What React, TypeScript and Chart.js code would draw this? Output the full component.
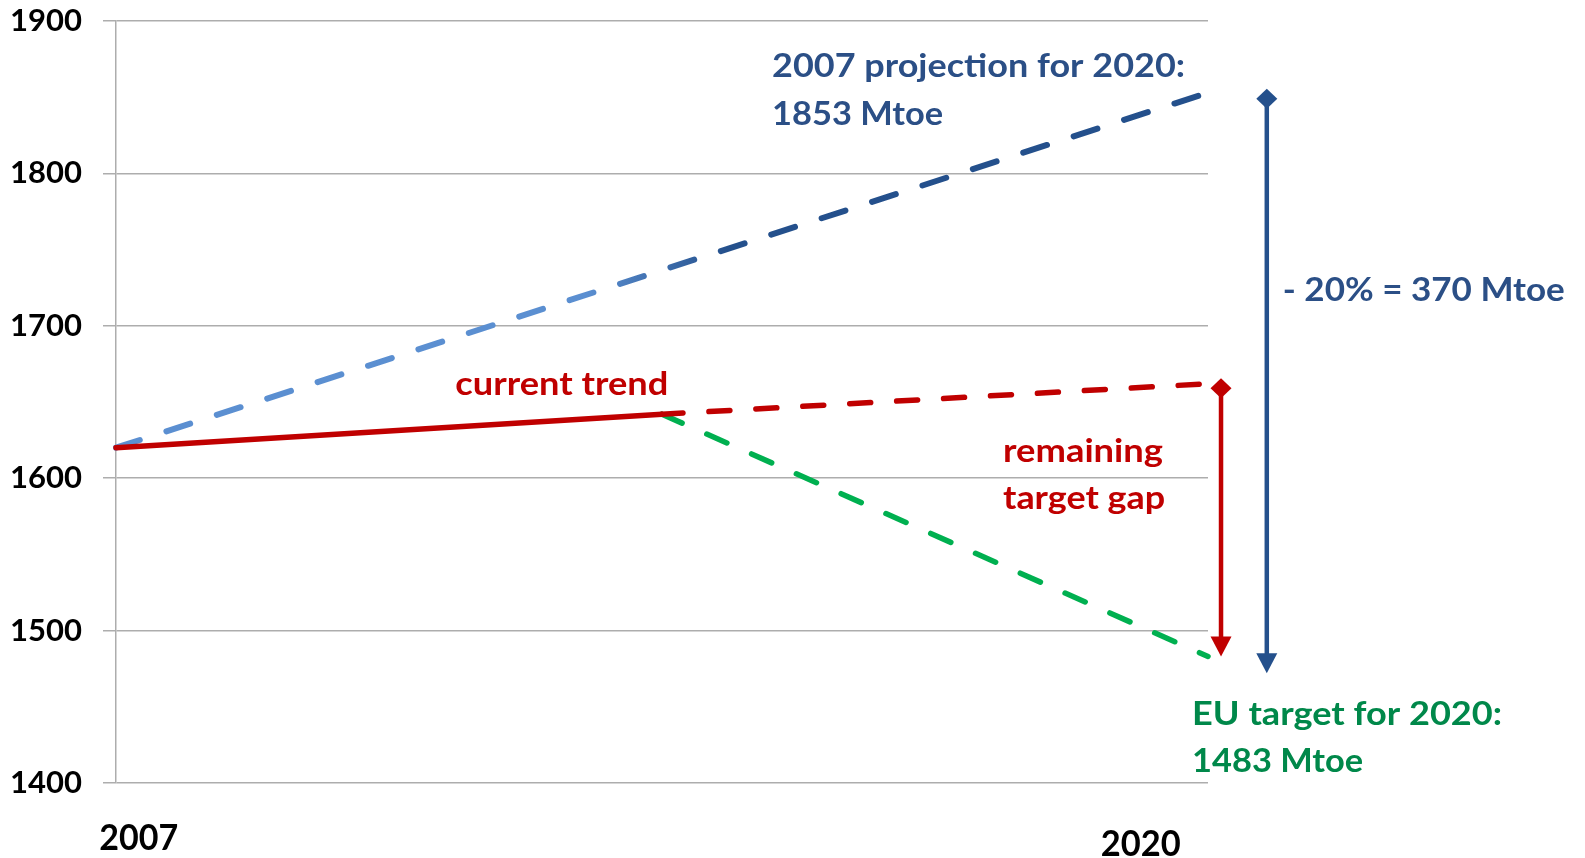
import React, { useEffect, useRef } from 'react';
import { Chart, registerables } from 'chart.js';

Chart.register(...registerables);

// ---- Data ----
const yMin = 1400;
const yMax = 1900;
const yStep = 100;
const xTickLabels = ['2007', '2020'];
const xTickYears = [2007.27, 2019.2];

const projectionYears = [2007, 2020];
const projectionValues = [1620, 1853];
const trendYears = [2007, 2013.5];
const trendValues = [1620, 1642];
const trendProjYears = [2013.5, 2020];
const trendProjValues = [1642, 1662];
const targetYears = [2013.5, 2020];
const targetValues = [1642, 1483];

const gapArrowYear = 2020.155;
const gapArrowValues = [1659, 1483];
const reductionArrowYear = 2020.7;
const reductionArrowValues = [1849, 1472];

const annotationTexts = [
  '2007 projection for 2020:',
  '1853 Mtoe',
  '- 20% = 370 Mtoe',
  'current trend',
  'remaining',
  'target gap',
  'EU target for 2020:',
  '1483 Mtoe',
];

// ---- Styles ----
const GRID = '#ADADAD';
const RED = '#C00000';
const GREEN_LINE = '#00B050';
const GREEN_TEXT = '#00884A';
const BLUE_LIGHT = '#5B8FD1';
const BLUE_DARK = '#24508C';
const BLUE_TEXT = '#2B4F86';
const FONT = 'Lato';

const pts = (xs: number[], ys: number[]) => xs.map((x, i) => ({ x, y: ys[i] }));

function fitText(
  ctx: CanvasRenderingContext2D,
  text: string,
  x: number,
  y: number,
  size: number,
  width: number,
  color: string
) {
  ctx.save();
  ctx.font = `bold ${size}px ${FONT}`;
  ctx.fillStyle = color;
  ctx.textAlign = 'left';
  ctx.textBaseline = 'alphabetic';
  const w = ctx.measureText(text).width;
  const sx = w > 0 ? width / w : 1;
  ctx.translate(x, y);
  ctx.scale(sx, 1);
  ctx.fillText(text, 0, 0);
  ctx.restore();
}

function drawArrow(
  ctx: CanvasRenderingContext2D,
  px: number,
  yTop: number,
  yTip: number,
  color: string
) {
  ctx.save();
  ctx.strokeStyle = color;
  ctx.fillStyle = color;
  ctx.lineWidth = 4.5;
  ctx.beginPath();
  ctx.moveTo(px, yTop);
  ctx.lineTo(px, yTip - 16);
  ctx.stroke();
  // diamond
  ctx.beginPath();
  ctx.moveTo(px, yTop - 10);
  ctx.lineTo(px + 10.5, yTop);
  ctx.lineTo(px, yTop + 10);
  ctx.lineTo(px - 10.5, yTop);
  ctx.closePath();
  ctx.fill();
  // arrow head
  ctx.beginPath();
  ctx.moveTo(px - 10.5, yTip - 20);
  ctx.lineTo(px + 10.5, yTip - 20);
  ctx.lineTo(px, yTip);
  ctx.closePath();
  ctx.fill();
  ctx.restore();
}

const annotationPlugin = {
  id: 'annotations',
  afterDatasetsDraw(chart: any) {
    const { ctx } = chart;
    const x = chart.scales.x;
    const y = chart.scales.y;
    const X = (v: number) => x.getPixelForValue(v);
    const Y = (v: number) => y.getPixelForValue(v);

    drawArrow(ctx, X(gapArrowYear), Y(gapArrowValues[0]), Y(gapArrowValues[1]), RED);
    drawArrow(ctx, X(reductionArrowYear), Y(reductionArrowValues[0]), Y(reductionArrowValues[1]), BLUE_DARK);

    // text: [year, value(baseline), size, width, color]
    const placements: [number, number, number, number, string][] = [
      [2014.81, 1863.3, 33, 413, BLUE_TEXT],
      [2014.81, 1831.8, 33, 171, BLUE_TEXT],
      [2020.89, 1716.5, 33, 282, BLUE_TEXT],
      [2011.04, 1654.6, 33, 213, RED],
      [2017.56, 1610.6, 33, 160, RED],
      [2017.56, 1580.0, 33, 162, RED],
      [2019.81, 1438.1, 33, 310, GREEN_TEXT],
      [2019.81, 1407.2, 33, 171, GREEN_TEXT],
    ];
    annotationTexts.forEach((t, i) => {
      const [yr, val, size, w, col] = placements[i];
      fitText(ctx, t, X(yr), Y(val), size, w, col);
    });

    // x-axis labels
    const xSizes = [37, 37];
    const xWidths = [79, 80];
    const xBase = [850, 856];
    xTickLabels.forEach((t, i) => {
      const cx = X(xTickYears[i]);
      fitText(ctx, t, cx - xWidths[i] / 2, xBase[i], xSizes[i], xWidths[i], '#000000');
    });
  },
};

export default function App() {
  const canvasRef = useRef<HTMLCanvasElement | null>(null);

  useEffect(() => {
    const canvas = canvasRef.current;
    if (!canvas) return;

    const blueGradient = (context: any) => {
      const chart = context.chart;
      const area = chart.chartArea;
      if (!area) return BLUE_LIGHT;
      const g = chart.ctx.createLinearGradient(area.left, 0, area.right, 0);
      g.addColorStop(0, BLUE_LIGHT);
      g.addColorStop(0.43, BLUE_LIGHT);
      g.addColorStop(0.56, BLUE_DARK);
      g.addColorStop(1, BLUE_DARK);
      return g;
    };

    const chart = new Chart(canvas, {
      type: 'line',
      data: {
        datasets: [
          {
            label: 'current trend',
            data: pts(trendYears, trendValues),
            borderColor: RED,
            borderWidth: 5.5,
            pointRadius: 0,
            borderCapStyle: 'round',
            clip: 12,
            order: 0,
          },
          {
            label: 'current trend projection',
            data: pts(trendProjYears, trendProjValues),
            borderColor: RED,
            borderWidth: 5.5,
            borderDash: [21, 26],
            borderCapStyle: 'round',
            pointRadius: 0,
            clip: 12,
            order: 1,
          },
          {
            label: 'EU target',
            data: pts(targetYears, targetValues),
            borderColor: GREEN_LINE,
            borderWidth: 5.5,
            borderDash: [22, 27],
            borderCapStyle: 'round',
            pointRadius: 0,
            clip: 12,
            order: 2,
          },
          {
            label: '2007 projection',
            data: pts(projectionYears, projectionValues),
            borderColor: blueGradient,
            borderWidth: 6,
            borderDash: [25, 28],
            borderCapStyle: 'round',
            pointRadius: 0,
            clip: 12,
            order: 3,
          },
        ],
      },
      options: {
        animation: false,
        responsive: false,
        devicePixelRatio: 1,
        layout: { padding: { top: 21, right: 377, bottom: 75, left: 0 } },
        plugins: {
          legend: { display: false },
          tooltip: { enabled: false },
        },
        scales: {
          x: {
            type: 'linear',
            min: 2007,
            max: 2020,
            display: false,
          },
          y: {
            min: yMin,
            max: yMax,
            afterFit: (scale: any) => {
              scale.width = 116;
              scale.paddingTop = 0;
              scale.paddingBottom = 0;
            },
            ticks: {
              stepSize: yStep,
              color: '#000000',
              padding: 21,
              font: { family: FONT, size: 31, weight: 'bold' },
              callback: (v: any) => String(v),
            },
            grid: {
              color: GRID,
              lineWidth: 1.5,
              tickLength: 13,
              drawTicks: true,
            },
            border: { display: true, color: GRID, width: 1.5 },
          },
        },
      },
      plugins: [annotationPlugin],
    } as any);

    return () => chart.destroy();
  }, []);

  return (
    <div style={{ position: 'fixed', left: 0, top: 0, width: 1585, height: 858, background: '#ffffff' }}>
      <canvas ref={canvasRef} width={1585} height={858} style={{ display: 'block' }} />
    </div>
  );
}
